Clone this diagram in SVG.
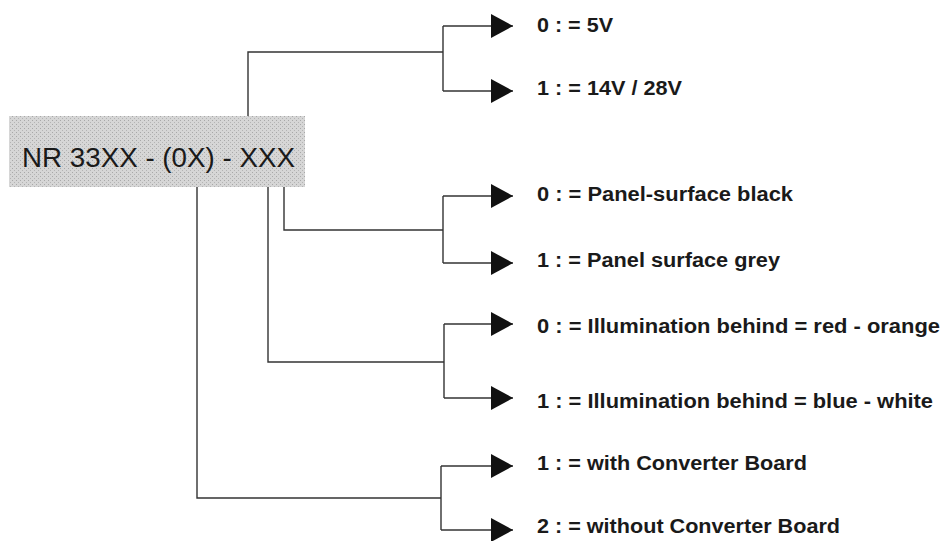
<svg xmlns="http://www.w3.org/2000/svg" width="946" height="541" viewBox="0 0 946 541">
<style>
.ln{fill:none;stroke:#333;stroke-width:1.4}
.lbl{font-family:"Liberation Sans",Arial,sans-serif;font-weight:bold;font-size:20px;fill:#1a1a1a}
.title{font-family:"Liberation Sans",Arial,sans-serif;font-size:28px;fill:#1a1a1a}
</style>
<defs>
<pattern id="stip" width="4" height="4" patternUnits="userSpaceOnUse">
<rect width="4" height="4" fill="#d6d6d6"/>
<rect x="0" y="0" width="1" height="1" fill="#a8a8a8"/>
<rect x="2" y="2" width="1" height="1" fill="#b4b4b4"/>
</pattern>
<marker id="ah" viewBox="0 0 22 24" refX="22" refY="12" markerWidth="22" markerHeight="24" markerUnits="userSpaceOnUse" orient="auto">
<path d="M0,0 L22,12 L0,24 z" fill="#111"/>
</marker>
</defs>
<g id="node-code">
<rect x="9" y="116" width="296" height="71" fill="url(#stip)"/>
<text class="title" x="22" y="167" textLength="273" lengthAdjust="spacingAndGlyphs">NR 33XX - (0X) - XXX</text>
</g>
<g id="connectors">
<path class="ln" d="M248,116 V52 H443"/>
<path class="ln" d="M443,26 V91"/>
<path class="ln" d="M443,26 H513" marker-end="url(#ah)"/>
<path class="ln" d="M443,91 H513" marker-end="url(#ah)"/>
<path class="ln" d="M284,187 V230 H443"/>
<path class="ln" d="M443,196 V263"/>
<path class="ln" d="M443,196 H513" marker-end="url(#ah)"/>
<path class="ln" d="M443,263 H513" marker-end="url(#ah)"/>
<path class="ln" d="M268,187 V362 H444"/>
<path class="ln" d="M444,324 V398"/>
<path class="ln" d="M444,324 H513" marker-end="url(#ah)"/>
<path class="ln" d="M444,398 H513" marker-end="url(#ah)"/>
<path class="ln" d="M197,187 V498 H441"/>
<path class="ln" d="M441,466 V530"/>
<path class="ln" d="M441,466 H513" marker-end="url(#ah)"/>
<path class="ln" d="M441,530 H513" marker-end="url(#ah)"/>
</g>
<g id="opt-0-5v"><text class="lbl" x="537" y="32" textLength="76" lengthAdjust="spacingAndGlyphs">0 : = 5V</text></g>
<g id="opt-1-14v"><text class="lbl" x="537" y="95" textLength="145" lengthAdjust="spacingAndGlyphs">1 : = 14V / 28V</text></g>
<g id="opt-0-black"><text class="lbl" x="537" y="201" textLength="256" lengthAdjust="spacingAndGlyphs">0 : = Panel-surface black</text></g>
<g id="opt-1-grey"><text class="lbl" x="537" y="267" textLength="243" lengthAdjust="spacingAndGlyphs">1 : = Panel surface grey</text></g>
<g id="opt-0-red"><text class="lbl" x="537" y="333" textLength="403" lengthAdjust="spacingAndGlyphs">0 : = Illumination behind = red - orange</text></g>
<g id="opt-1-blue"><text class="lbl" x="537" y="408" textLength="396" lengthAdjust="spacingAndGlyphs">1 : = Illumination behind = blue - white</text></g>
<g id="opt-1-with"><text class="lbl" x="537" y="470" textLength="270" lengthAdjust="spacingAndGlyphs">1 : = with Converter Board</text></g>
<g id="opt-2-without"><text class="lbl" x="537" y="533" textLength="303" lengthAdjust="spacingAndGlyphs">2 : = without Converter Board</text></g>
</svg>
